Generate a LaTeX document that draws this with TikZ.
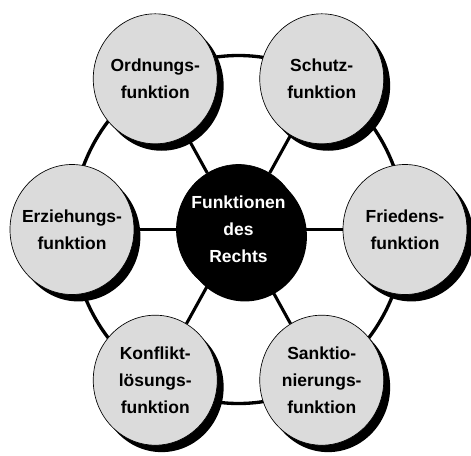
\documentclass[tikz,border=0pt]{standalone}
\usepackage{fontspec}
\setmainfont{Liberation Sans}
\usetikzlibrary{shapes.geometric,shadows}

\begin{document}
\begin{tikzpicture}[x=0.75pt, y=0.75pt,
    schrift/.style={align=center, font=\fontsize{13.1}{20.25}\selectfont\bfseries},
    funk/.style={ellipse, draw, line width=0.5pt, fill=gray!28,
        minimum width=93pt, minimum height=97.5pt, inner sep=0pt,
        drop shadow={shadow xshift=4.8pt, shadow yshift=-5.2pt, fill=black, opacity=1}},
    kern/.style={funk, fill=black}]
    \useasboundingbox (-238.5,-225.5) rectangle (232.5,229.5);

    % Ring durch alle Funktionen
    \draw[line width=2.5pt] (0,0) ellipse [x radius=166.5, y radius=174];

    % Mitte: Funktionen des Rechts
    \node[kern, label={[schrift, text=white]center:Funktionen\\des\\Rechts}] (recht) at (0,0) {};

    % Die sechs Funktionen rundherum
    \node[funk, label={[schrift]center:Ordnungs-\\funktion}] (ordnung) at (120:166.5 and 174) {};
    \node[funk, label={[schrift]center:Schutz-\\funktion}] (schutz) at (60:166.5 and 174) {};
    \node[funk, label={[schrift]center:Friedens-\\funktion}] (frieden) at (0:166.5 and 174) {};
    \node[funk, label={[schrift]center:Sanktio-\\nierungs-\\funktion}] (sanktion) at (-60:166.5 and 174) {};
    \node[funk, label={[schrift]center:Konflikt-\\l\"osungs-\\funktion}] (konflikt) at (-120:166.5 and 174) {};
    \node[funk, label={[schrift]center:Erziehungs-\\funktion}] (erziehung) at (180:166.5 and 174) {};

    % Speichen von der Mitte nach aussen
    \foreach \f in {ordnung, schutz, frieden, sanktion, konflikt, erziehung}
        \draw[line width=2.3pt] (recht) -- (\f);
\end{tikzpicture}
\end{document}
